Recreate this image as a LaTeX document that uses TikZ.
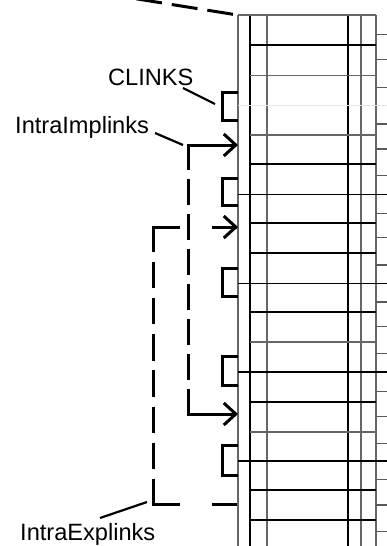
\documentclass[tikz,border=0pt]{standalone}
\usepackage{fontspec}
\setmainfont{Liberation Sans}
\usetikzlibrary{arrows.meta,calc}
\begin{document}
\begin{tikzpicture}[x=1pt,y=-1pt,
  gblack/.style={line width=1.1pt, black},
  ggray/.style={line width=1.3pt, black!60},
  glight/.style={line width=1pt, black!10},
  gshort/.style={line width=1.3pt, black!65},
  txt/.style={font=\fontsize{23.6}{26}\selectfont, inner sep=0pt, anchor=base west},
  leaderline/.style={line width=2.2pt},
  clinkbox/.style={line width=3pt, line join=miter},
  shaft/.style={line width=3pt, line cap=rect},
  linkarrow/.style={line width=3pt, -{Straight Barb[length=12pt,width=22pt]}},
  vdashA/.style={line width=3pt, line cap=rect, dash pattern=on 23.5pt off 11.57pt},
  vdashB/.style={line width=3pt, line cap=rect, dash pattern=on 23.5pt off 12.71pt},
  hdash/.style={line width=3pt, line cap=rect, dash pattern=on 25pt off 35pt},
  topdash/.style={line width=3pt, dash pattern=on 26pt off 10pt},
]
\useasboundingbox (0,0) rectangle (387,546);
\clip (0,0) rectangle (387,546);

% ---------- grid ----------
\foreach \x/\s in {238/ggray, 250/gblack, 267/ggray, 348/gblack, 361/ggray, 376/ggray}
  \draw[\s] (\x,15) -- (\x,546);
\draw[ggray] (238,15) -- (376,15);
\foreach \y in {45,164,223,253,312,402,490,520}
  \draw[gblack] (250,\y) -- (376,\y);
\foreach \y in {75.7,135,342,432}
  \draw[ggray] (250,\y) -- (376,\y);
\foreach \y in {194.3,283.3,372,461}
  \draw[gblack] (238,\y) -- (387,\y);
\draw[glight] (238,105.3) -- (387,105.3);
\foreach \y in {34.3,59.3,87.3,124,149,175.7,213.3,237.7,265,302,326.3,353.3,391.7,416.7,443.3,479.3,505,531.7}
  \draw[gshort] (376,\y) -- (387,\y);

% ---------- CLINK brackets ----------
\foreach \a/\b in {92.2/120.2, 178.2/205.2, 268.2/296.8, 356.5/385.8, 445.5/475.8}
  \draw[clinkbox] (238,\a) -- (222.5,\a) -- (222.5,\b) -- (238,\b);

% ---------- labels ----------
\node[txt] (clinks) at (108,85) {CLINKS};
\node[txt] (intraimp) at (15,133) {IntraImplinks};
\node[txt] (intraexp) at (20,540) {IntraExplinks};

\coordinate (clA) at (183,88);   \coordinate (clB) at (215,104);
\coordinate (imA) at (155,133);  \coordinate (imB) at (183,145);
\coordinate (exA) at (100,518);  \coordinate (exB) at (147,502);
\draw[leaderline] (clA) -- (clB);
\draw[leaderline] (imA) -- (imB);
\draw[leaderline] (exA) -- (exB);

% ---------- IntraImplinks ----------
\coordinate (i1) at (188,145);
\coordinate (i2) at (188,414);
\coordinate (t1) at (238,145);
\coordinate (t3) at (238,414);
\draw[shaft] (i1) -- ($(t1)+(-4,0)$);
\draw[shaft] (i2) -- ($(t3)+(-4,0)$);
\draw[vdashA] (i1) -- (i2);
\draw[linkarrow] ($(t1)+(-10,0)$) -- (t1);
\draw[linkarrow] ($(t3)+(-10,0)$) -- (t3);

% ---------- IntraExplinks ----------
\coordinate (e1) at (153,227);
\coordinate (e2) at (153,504);
\coordinate (t2) at (238,227);
\coordinate (t4) at (238,504);
\draw[hdash] (e1) -- ($(t2)+(-3,0)$);
\draw[vdashB] (e1) -- (e2);
\draw[hdash] (e2) -- ($(t4)+(-3,0)$);
\draw[linkarrow] ($(t2)+(-10,0)$) -- (t2);

% ---------- top dashed link ----------
\coordinate (g0) at (233,14.3);
\coordinate (g1) at (73,-11.3);
\draw[topdash] (g0) -- (g1);
\end{tikzpicture}
\end{document}
